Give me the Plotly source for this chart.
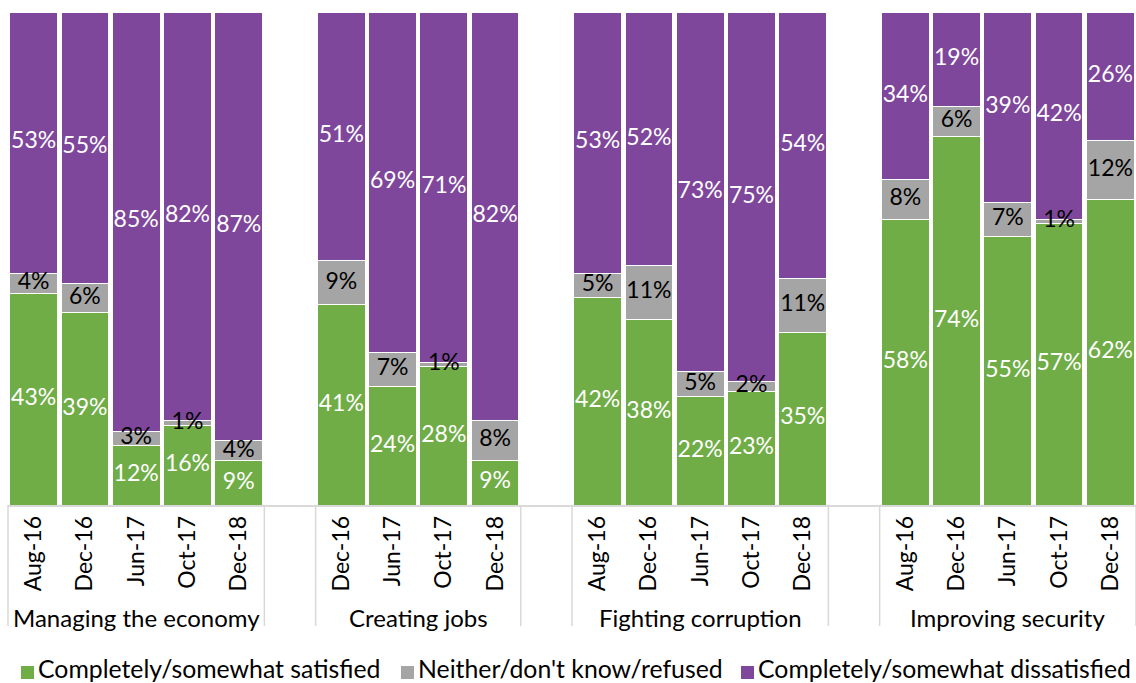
import plotly.graph_objects as go

# Survey topics and the survey rounds asked for each
topics = ["Managing the economy", "Creating jobs", "Fighting corruption", "Improving security"]
rounds = [
    ["Aug-16", "Dec-16", "Jun-17", "Oct-17", "Dec-18"],
    ["Dec-16", "Jun-17", "Oct-17", "Dec-18"],
    ["Aug-16", "Dec-16", "Jun-17", "Oct-17", "Dec-18"],
    ["Aug-16", "Dec-16", "Jun-17", "Oct-17", "Dec-18"],
]

# Shares (%) per topic, in the same order as the rounds above
satisfied = [[43, 39, 12, 16, 9], [41, 24, 28, 9], [42, 38, 22, 23, 35], [58, 74, 55, 57, 62]]
neither = [[4, 6, 3, 1, 4], [9, 7, 1, 8], [5, 11, 5, 2, 11], [8, 6, 7, 1, 12]]
dissatisfied = [[53, 55, 85, 82, 87], [51, 69, 71, 82], [53, 52, 73, 75, 54], [34, 19, 39, 42, 26]]

series_names = ["Completely/somewhat satisfied", "Neither/don't know/refused",
                "Completely/somewhat dissatisfied"]
series_colors = ["#70AD47", "#A5A5A5", "#7F479B"]
label_colors = ["white", "black", "white"]

# Slot positions along the x axis: one slot per round, an empty slot between topics
xpos, xlabels = [], []
flat = [[], [], []]
group_spans = []  # (first slot, last slot) of every topic
slot = 0
for i, topic in enumerate(topics):
    first = slot
    for j, rnd in enumerate(rounds[i]):
        xpos.append(slot)
        xlabels.append(rnd)
        for k, src in enumerate((satisfied, neither, dissatisfied)):
            flat[k].append(src[i][j])
        slot += 1
    group_spans.append((first, slot - 1))
    if i < len(topics) - 1:
        slot += 1
n_slots = slot

# Label positions: middle of each segment of the 100% stack
centers = [[], [], []]
for idx in range(len(xpos)):
    vals = [flat[k][idx] for k in range(3)]
    total = sum(vals)
    base = 0.0
    for k in range(3):
        centers[k].append((base + vals[k] / 2) / total * 100)
        base += vals[k]

FONT = "Lato"
W, H = 1136, 683
M_L, M_R, M_T, M_B = 8, 0, 12, 178
plot_w = W - M_L - M_R
plot_h = H - M_T - M_B


def px_x(px):
    return (px - M_L) / plot_w


def px_y(py):
    return (H - M_B - py) / plot_h


fig = go.Figure()
for k in range(3):
    fig.add_trace(go.Bar(
        x=xpos,
        y=flat[k],
        name=series_names[k],
        marker=dict(color=series_colors[k], line=dict(color="white", width=1)),
        hoverinfo="skip",
        showlegend=False,
    ))

# Percentage labels drawn above all bars
for k in range(3):
    fig.add_trace(go.Scatter(
        x=xpos,
        y=centers[k],
        mode="text",
        text=[f"{v}%" for v in flat[k]],
        textposition="middle center",
        textfont=dict(family=FONT, size=23, color=label_colors[k]),
        cliponaxis=False,
        hoverinfo="skip",
        showlegend=False,
    ))

# Topic names under the rotated round labels, with separators between topics
divider_top, divider_bottom = px_y(505), px_y(626)
for i, topic in enumerate(topics):
    a, b = group_spans[i]
    fig.add_annotation(
        xref="x", yref="paper",
        x=(a + b) / 2, y=px_y(617),
        xanchor="center", yanchor="middle",
        text=topic, showarrow=False,
        font=dict(family=FONT, size=24, color="black"),
    )
    for edge in (a - 0.5, b + 0.5):
        xp = (edge + 0.5) / n_slots
        fig.add_shape(
            type="line", xref="paper", yref="paper",
            x0=xp, x1=xp, y0=divider_top, y1=divider_bottom,
            line=dict(color="#D9D9D9", width=1.5),
        )

# Legend row: colour swatch followed by series name
legend_text_x = [38, 418, 758]
legend_y = 668
for k in range(3):
    tx = legend_text_x[k]
    fig.add_shape(
        type="rect", xref="paper", yref="paper",
        x0=px_x(tx - 17), x1=px_x(tx - 4),
        y0=px_y(legend_y + 11), y1=px_y(legend_y - 2),
        fillcolor=series_colors[k], line=dict(width=0),
    )
    fig.add_annotation(
        xref="paper", yref="paper",
        x=px_x(tx - 2), y=px_y(legend_y),
        xanchor="left", yanchor="middle",
        text=series_names[k], showarrow=False,
        font=dict(family=FONT, size=24.8, color="black"),
    )

fig.update_layout(
    barmode="stack",
    barnorm="percent",
    bargap=0.07,
    width=W,
    height=H,
    margin=dict(l=M_L, r=M_R, t=M_T, b=M_B),
    paper_bgcolor="white",
    plot_bgcolor="white",
    font=dict(family=FONT, size=24, color="black"),
    showlegend=False,
    xaxis=dict(
        tickmode="array",
        tickvals=xpos,
        ticktext=xlabels,
        tickangle=-90,
        tickfont=dict(family=FONT, size=23, color="black"),
        showline=True,
        linecolor="#D9D9D9",
        linewidth=1.5,
        ticks="",
        showgrid=False,
        zeroline=False,
        range=[-0.5, n_slots - 0.5],
    ),
    yaxis=dict(
        range=[0, 100],
        visible=False,
        showgrid=False,
        zeroline=False,
    ),
)

fig.write_html("out.html")
